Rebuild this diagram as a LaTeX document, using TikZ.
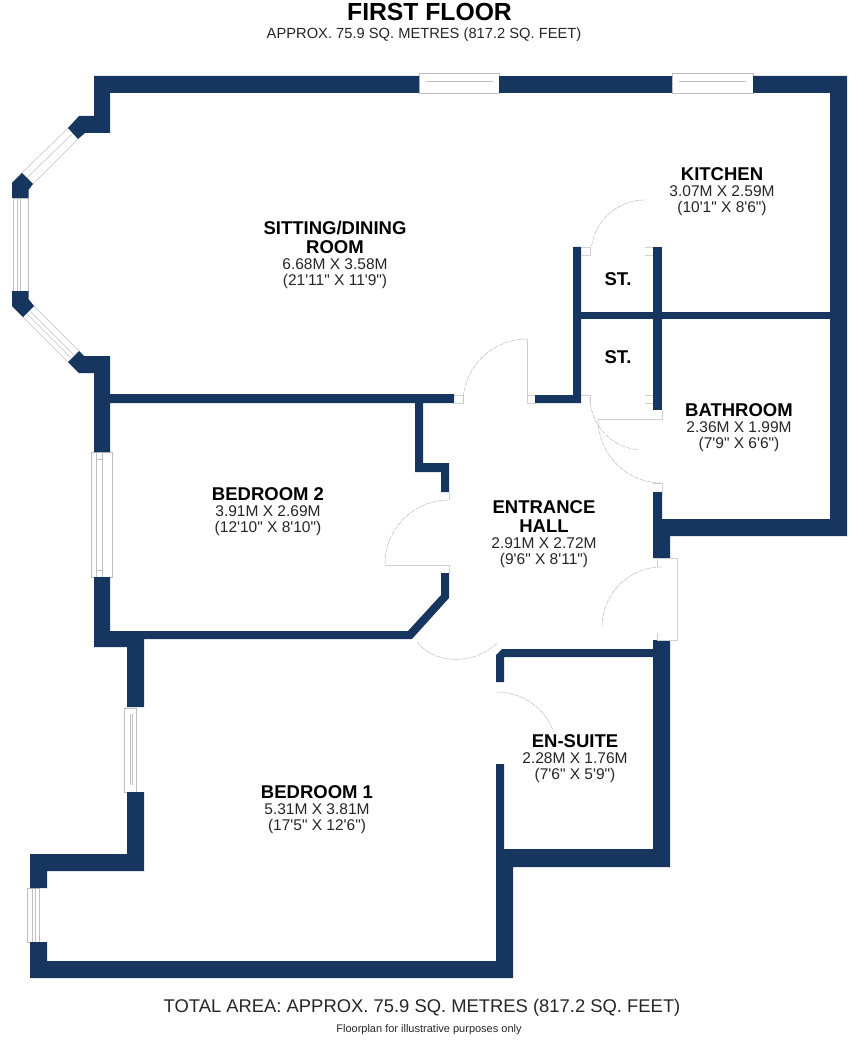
\documentclass[tikz,border=0pt]{standalone}
\usepackage{fontspec}
\setmainfont[Ligatures=TeXOff]{Liberation Sans}
\usetikzlibrary{positioning}
\definecolor{wallblue}{HTML}{16365F}
\tikzset{
	wall/.style={fill=wallblue,draw=none},
	glazing/.style={draw=black!25,line width=0.5pt},
	leaf/.style={draw=black!18,line width=0.5pt},
	swing/.style={draw=black!28,line width=0.45pt,dash pattern=on 5pt off 1pt},
	roomname/.style={font=\bfseries\fontsize{18.5}{19}\selectfont,align=center,inner sep=0pt,text=black},
	roomsize/.style={font=\fontsize{15.5}{16}\selectfont,align=center,inner sep=0pt,text=black!85,below=4.5pt of #1},
}
\begin{document}
\begin{tikzpicture}[x=1pt,y=-1pt]
	\useasboundingbox (0,0) rectangle (850,1048);
	% windows
	\draw [glazing] (419,73) rectangle (499,93);
	\draw [glazing] (426,81) -- (493,81);
	\draw [glazing] (672,73) rectangle (753,93);
	\draw [glazing] (679,81) -- (746,81);
	\draw [glazing] (13,198) rectangle (28.5,291);
	\draw [glazing] (17,198) -- (17,291);
	\draw [glazing] (20,198) -- (20,291);
	\draw [glazing] (22,173) -- (68,128) (33,184) -- (78,139);
	\draw [glazing] (27,178) -- (73,133);
	\draw [glazing] (23,317) -- (68,362) (34,306) -- (79,351);
	\draw [glazing] (26,313) -- (71,358);
	\draw [glazing] (29,310) -- (74,355);
	\draw [glazing] (91,452) rectangle (112,577);
	\draw [glazing] (96,452) -- (96,577);
	\draw [glazing] (102,452) -- (102,577);
	\draw [glazing] (96,459) -- (102,459) (96,570) -- (102,570);
	\draw [glazing] (124.5,708) rectangle (136,792);
	\draw [glazing] (130,714) -- (130,785);
	\draw [glazing] (132.5,714) -- (132.5,785);
	\draw [glazing] (27,888) rectangle (39,942);
	\draw [glazing] (32.5,888) -- (32.5,942);
	\draw [glazing] (35.5,888) -- (35.5,942);
	% walls
	\fill [wall] (94,76) -- (419,76) -- (419,93) -- (110,93) -- (110,133) -- (85,133) -- (78,139) -- (68,128) -- (79,116) -- (94,116) -- cycle;
	\fill [wall] (499,76) rectangle (672,93);
	\fill [wall] (753,76) -- (847,76) -- (847,536) -- (670,536) -- (670,558) -- (653,558) -- (653,492) -- (662,492) -- (662,519) -- (830,519) -- (830,93) -- (753,93) -- cycle;
	\fill [wall] (573,312) rectangle (830,319);
	\fill [wall] (573,247) -- (581,247) -- (581,403) -- (535,403) -- (535,395) -- (573,395) -- cycle;
	\fill [wall] (653,247) rectangle (662,410);
	\fill [wall] (22,173) -- (33,184) -- (28.5,190) -- (28.5,198) -- (12,198) -- (12,183) -- cycle;
	\fill [wall] (12,291) -- (28.5,291) -- (28.5,299) -- (34,306) -- (23,317) -- (12,306) -- cycle;
	\fill [wall] (79,351) -- (84,356) -- (110,356) -- (110,394) -- (454,394) -- (454,403) -- (423,403) -- (423,463) -- (449,463) -- (449,492) -- (441,492) -- (441,472) -- (415,472) -- (415,403) -- (110,403) -- (110,452) -- (94,452) -- (94,373) -- (79,373) -- (68,362) -- cycle;
	\fill [wall] (94,577) -- (110,577) -- (110,631) -- (408,631) -- (441,595) -- (441,573) -- (449,573) -- (449,598) -- (412,639) -- (144,639) -- (144,707) -- (127,707) -- (127,647) -- (94,647) -- cycle;
	\fill [wall] (127,792) -- (144,792) -- (144,871) -- (47,871) -- (47,888) -- (30,888) -- (30,854) -- (127,854) -- cycle;
	\fill [wall] (30,942) -- (47,942) -- (47,961) -- (496,961) -- (496,764) -- (504,764) -- (504,849) -- (653,849) -- (653,657) -- (504,657) -- (504,682) -- (496,682) -- (496,655) -- (502,649) -- (653,649) -- (653,640) -- (670,640) -- (670,867) -- (513,867) -- (513,978) -- (30,978) -- cycle;
	% doors
	\draw [leaf] (527,339) -- (527,403) -- (535,403) (527,395) -- (535,395);
	\draw [leaf] (454,395) -- (463,395) -- (463,403) -- (454,403);
	\draw [swing] (527,339) arc[start angle=-90,end angle=-180,radius=64];
	\draw [leaf] (581,255) -- (590,255) -- (590,247) -- (581,247);
	\draw [leaf] (645,247) -- (653,247) (645,255) -- (653,255);
	\draw [swing] (645,200) arc[start angle=-90,end angle=-172,radius=54];
	\draw [leaf] (581,395) -- (590,395) -- (590,403) (645,395) -- (653,395) (645,403) -- (653,403);
	\draw [swing] (590,397) arc[start angle=180,end angle=95,radius=53];
	\draw [leaf] (598,419) -- (662,419) -- (662,410);
	\draw [leaf] (653,483) -- (662,483) -- (662,492);
	\draw [swing] (598,419) arc[start angle=180,end angle=90,radius=64];
	\draw [leaf] (449,492) -- (449,500) (385,565) -- (449,565) -- (449,573);
	\draw [swing] (449,500) arc[start angle=-90,end angle=-180,radius=64];
	\draw [leaf] (657,558) -- (677,558) -- (677,640) -- (657,640) (657,558) -- (657,568) (657,633) -- (657,640);
	\draw [swing] (662,567) arc[start angle=-90,end angle=-180,radius=60];
	\draw [swing] (417,642) .. controls (435,665) and (475,665) .. (497,643);
	\draw [swing] (497,692) arc[start angle=-90,end angle=-20,radius=60];
	% labels
	\node [font=\bfseries\fontsize{24.7}{25}\selectfont,inner sep=0pt] (title) at (429.5,12) {FIRST FLOOR};
	\node [font=\fontsize{14.7}{15}\selectfont,inner sep=0pt,text=black!85] (subtitle) at (424,35) {APPROX. 75.9 SQ. METRES (817.2 SQ. FEET)};
	\node [roomname] (sitting) at (335,237.5) {SITTING/DINING\\ROOM};
	\node [roomsize=sitting] (sittingsize) {6.68M X 3.58M\\(21'11" X 11'9")};
	\node [roomname] (kitchen) at (722,174) {KITCHEN};
	\node [roomsize=kitchen] (kitchensize) {3.07M X 2.59M\\(10'1" X 8'6")};
	\node [roomname] (store1) at (618,279) {ST.};
	\node [roomname] (store2) at (618,357) {ST.};
	\node [roomname] (bathroom) at (739,410) {BATHROOM};
	\node [roomsize=bathroom] (bathroomsize) {2.36M X 1.99M\\(7'9" X 6'6")};
	\node [roomname] (bedtwo) at (268,494) {BEDROOM 2};
	\node [roomsize=bedtwo] (bedtwosize) {3.91M X 2.69M\\(12'10" X 8'10")};
	\node [roomname] (hall) at (544,517) {ENTRANCE\\HALL};
	\node [roomsize=hall] (hallsize) {2.91M X 2.72M\\(9'6" X 8'11")};
	\node [roomname] (ensuite) at (575,741) {EN-SUITE};
	\node [roomsize=ensuite] (ensuitesize) {2.28M X 1.76M\\(7'6" X 5'9")};
	\node [roomname] (bedone) at (317,792) {BEDROOM 1};
	\node [roomsize=bedone] (bedonesize) {5.31M X 3.81M\\(17'5" X 12'6")};
	\node [font=\fontsize{18.4}{19}\selectfont,inner sep=0pt,text=black!85] (total) at (422,1008) {TOTAL AREA: APPROX. 75.9 SQ. METRES (817.2 SQ. FEET)};
	\node [font=\fontsize{11}{12}\selectfont,inner sep=0pt,text=black!85] (note) at (429,1030) {Floorplan for illustrative purposes only};
\end{tikzpicture}
\end{document}
